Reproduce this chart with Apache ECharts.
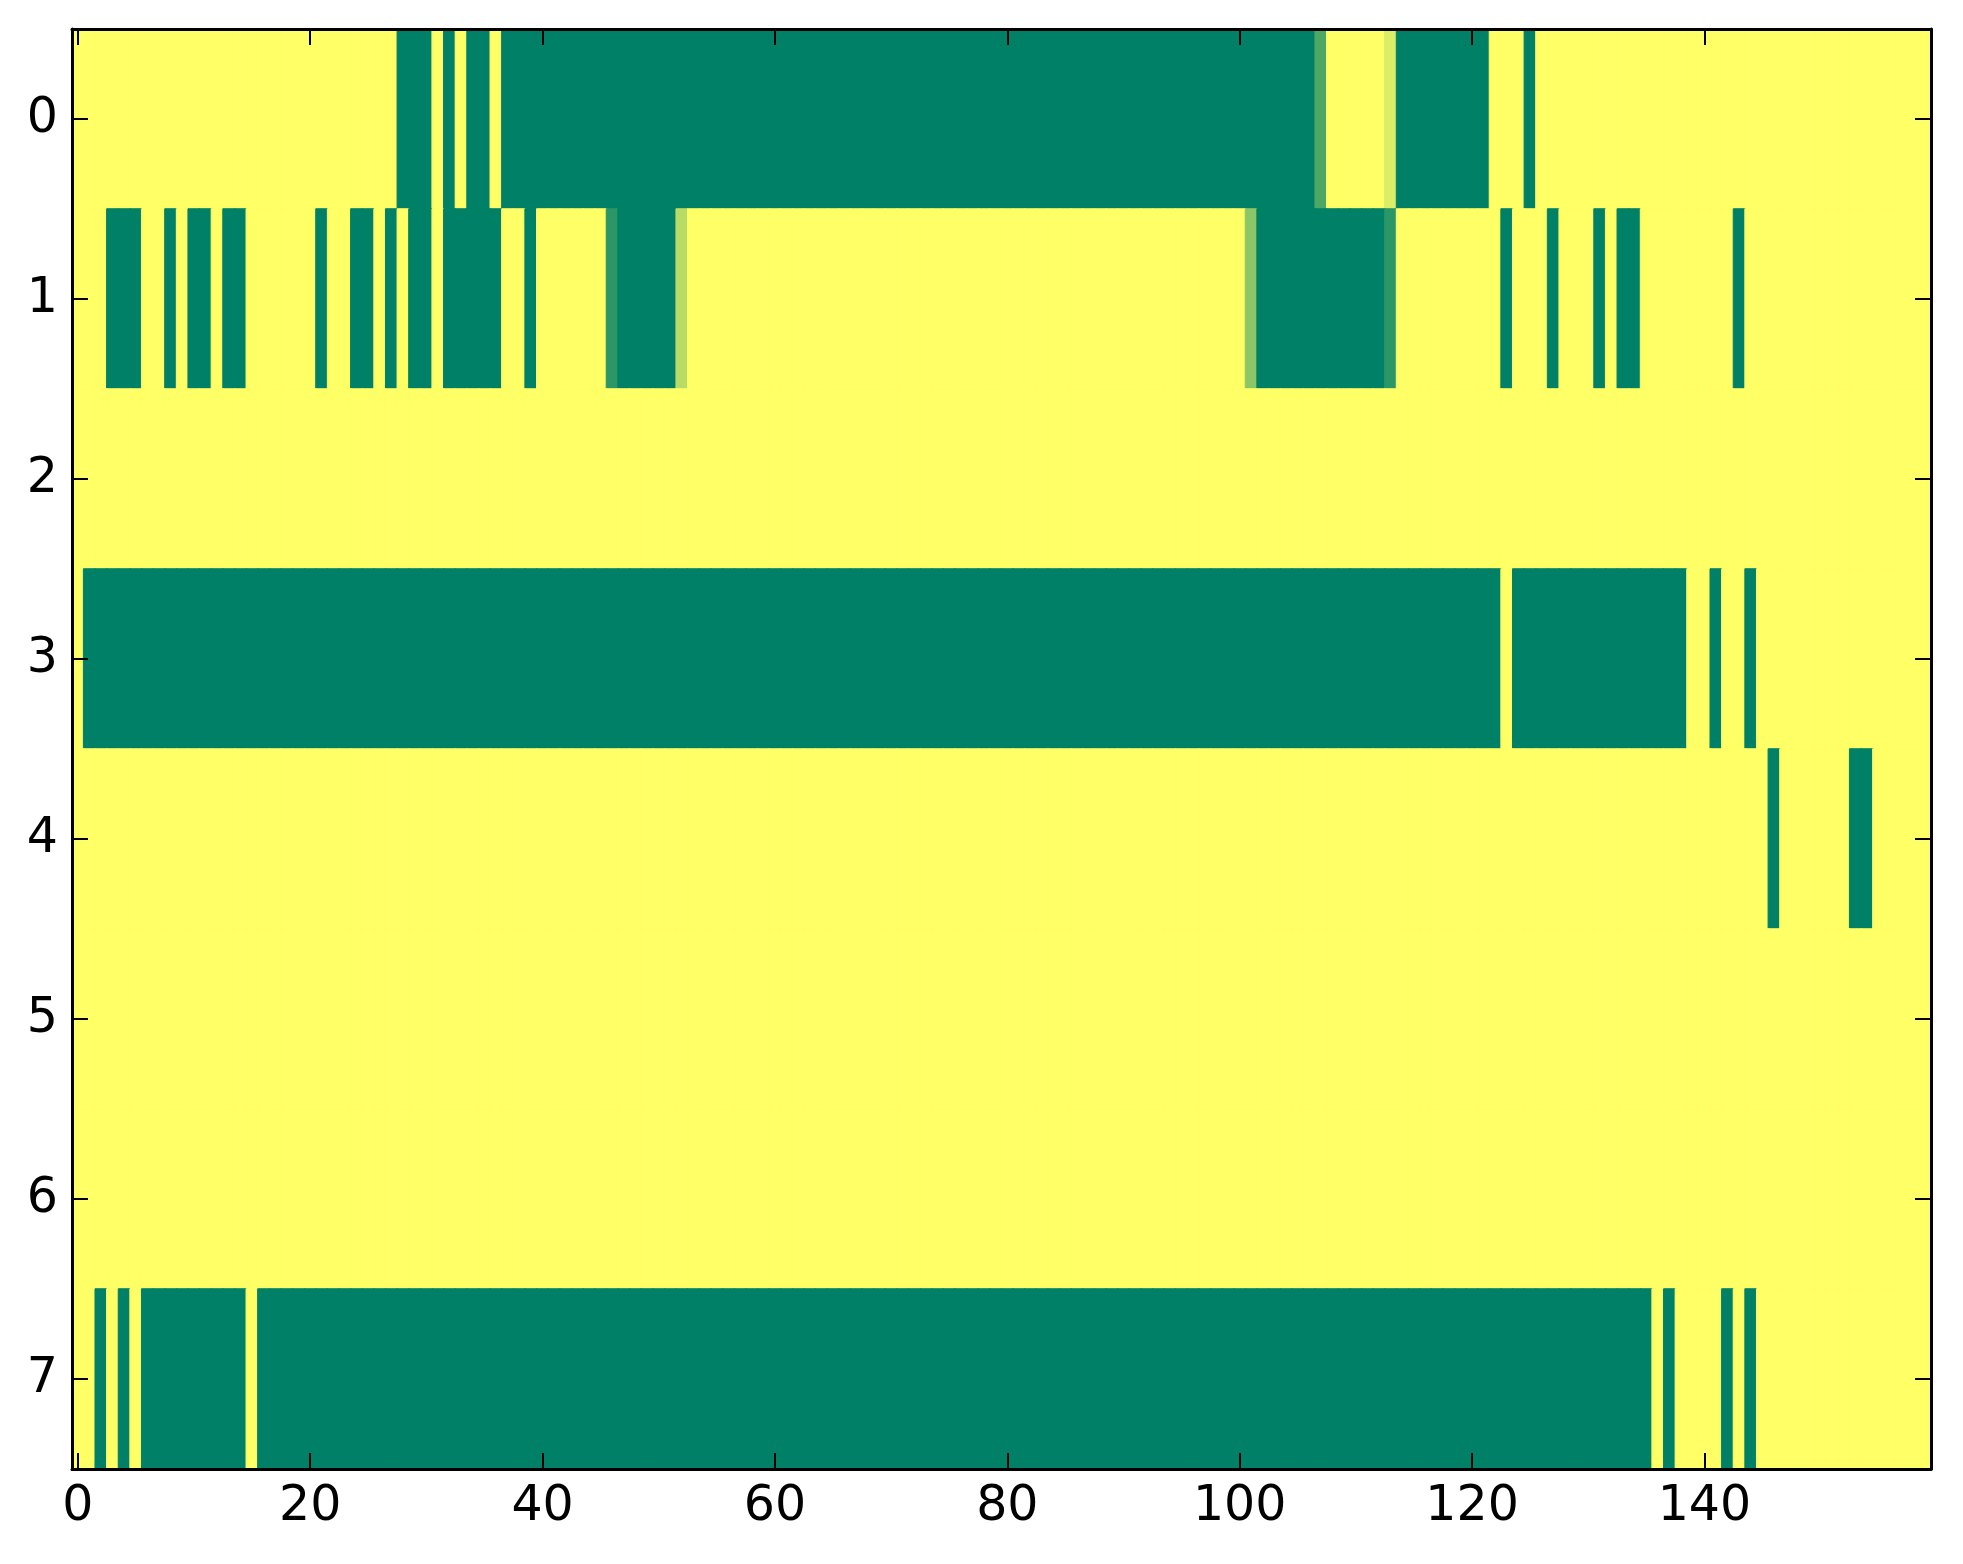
<!DOCTYPE html>
<html>
<head>
<meta charset="utf-8">
<script src="https://cdn.jsdelivr.net/npm/echarts@6/dist/echarts.min.js"></script>
<style>
html,body{margin:0;padding:0;background:#fff;}
#chart{width:1963px;height:1564px;}
</style>
</head>
<body>
<div id="chart"></div>
<script>
// Column categories (0..159) and row categories (0..7)
const colCount = 160;
const rowLabels = ['0','1','2','3','4','5','6','7'];
const xTickLabels = ['0','20','40','60','80','100','120','140'];

const row0 = [
1,1,1,1,1,1,1,1,1,1, 1,1,1,1,1,1,1,1,1,1,
1,1,1,1,1,1,1,1,0,0, 0,1,0,1,0,0,1,0,0,0,
0,0,0,0,0,0,0,0,0,0, 0,0,0,0,0,0,0,0,0,0,
0,0,0,0,0,0,0,0,0,0, 0,0,0,0,0,0,0,0,0,0,
0,0,0,0,0,0,0,0,0,0, 0,0,0,0,0,0,0,0,0,0,
0,0,0,0,0,0,0,0.31,1,1, 1,1,1,0.86,0,0,0,0,0,0,
0,0,1,1,1,0,1,1,1,1, 1,1,1,1,1,1,1,1,1,1,
1,1,1,1,1,1,1,1,1,1, 1,1,1,1,1,1,1,1,1,1
];
const row1 = [
1,1,1,0,0,0,1,1,0,1, 0,0,1,0,0,1,1,1,1,1,
1,0,1,1,0,0,1,0,1,0, 0,1,0,0,0,0,0,1,1,0,
1,1,1,1,1,1,0.17,0,0,0, 0,0,0.72,1,1,1,1,1,1,1,
1,1,1,1,1,1,1,1,1,1, 1,1,1,1,1,1,1,1,1,1,
1,1,1,1,1,1,1,1,1,1, 1,1,1,1,1,1,1,1,1,1,
1,0.55,0,0,0,0,0,0,0,0, 0,0,0,0.17,1,1,1,1,1,1,
1,1,1,0,1,1,1,0,1,1, 1,0,1,0,0,1,1,1,1,1,
1,1,1,0,1,1,1,1,1,1, 1,1,1,1,1,1,1,1,1,1
];
const row2 = [
1,1,1,1,1,1,1,1,1,1, 1,1,1,1,1,1,1,1,1,1,
1,1,1,1,1,1,1,1,1,1, 1,1,1,1,1,1,1,1,1,1,
1,1,1,1,1,1,1,1,1,1, 1,1,1,1,1,1,1,1,1,1,
1,1,1,1,1,1,1,1,1,1, 1,1,1,1,1,1,1,1,1,1,
1,1,1,1,1,1,1,1,1,1, 1,1,1,1,1,1,1,1,1,1,
1,1,1,1,1,1,1,1,1,1, 1,1,1,1,1,1,1,1,1,1,
1,1,1,1,1,1,1,1,1,1, 1,1,1,1,1,1,1,1,1,1,
1,1,1,1,1,1,1,1,1,1, 1,1,1,1,1,1,1,1,1,1
];
const row3 = [
1,0,0,0,0,0,0,0,0,0, 0,0,0,0,0,0,0,0,0,0,
0,0,0,0,0,0,0,0,0,0, 0,0,0,0,0,0,0,0,0,0,
0,0,0,0,0,0,0,0,0,0, 0,0,0,0,0,0,0,0,0,0,
0,0,0,0,0,0,0,0,0,0, 0,0,0,0,0,0,0,0,0,0,
0,0,0,0,0,0,0,0,0,0, 0,0,0,0,0,0,0,0,0,0,
0,0,0,0,0,0,0,0,0,0, 0,0,0,0,0,0,0,0,0,0,
0,0,0,1,0,0,0,0,0,0, 0,0,0,0,0,0,0,0,0,1,
1,0,1,1,0,1,1,1,1,1, 1,1,1,1,1,1,1,1,1,1
];
const row4 = [
1,1,1,1,1,1,1,1,1,1, 1,1,1,1,1,1,1,1,1,1,
1,1,1,1,1,1,1,1,1,1, 1,1,1,1,1,1,1,1,1,1,
1,1,1,1,1,1,1,1,1,1, 1,1,1,1,1,1,1,1,1,1,
1,1,1,1,1,1,1,1,1,1, 1,1,1,1,1,1,1,1,1,1,
1,1,1,1,1,1,1,1,1,1, 1,1,1,1,1,1,1,1,1,1,
1,1,1,1,1,1,1,1,1,1, 1,1,1,1,1,1,1,1,1,1,
1,1,1,1,1,1,1,1,1,1, 1,1,1,1,1,1,1,1,1,1,
1,1,1,1,1,1,0,1,1,1, 1,1,1,0,0,1,1,1,1,1
];
const row5 = row2.slice();
const row6 = row2.slice();
const row7 = [
1,1,0,1,0,1,0,0,0,0, 0,0,0,0,0,1,0,0,0,0,
0,0,0,0,0,0,0,0,0,0, 0,0,0,0,0,0,0,0,0,0,
0,0,0,0,0,0,0,0,0,0, 0,0,0,0,0,0,0,0,0,0,
0,0,0,0,0,0,0,0,0,0, 0,0,0,0,0,0,0,0,0,0,
0,0,0,0,0,0,0,0,0,0, 0,0,0,0,0,0,0,0,0,0,
0,0,0,0,0,0,0,0,0,0, 0,0,0,0,0,0,0,0,0,0,
0,0,0,0,0,0,0,0,0,0, 0,0,0,0,0,0,1,0,1,1,
1,1,0,1,0,1,1,1,1,1, 1,1,1,1,1,1,1,1,1,1
];
const rows = [row0,row1,row2,row3,row4,row5,row6,row7];

const colorStops = ['#008066', '#ffff66'];   // matplotlib "summer" end colours

const cols = [];
for (let i = 0; i < colCount; i++) cols.push(String(i));

// Each cell gets a 1px border in its own colour so neighbouring cells leave no seam
const data = [];
rows.forEach((r, y) => r.forEach((v, x) => data.push({
  value: [x, y, v],
  itemStyle: { borderColor: echarts.color.lerp(v, colorStops), borderWidth: 1 }
})));

const fontFamily = 'DejaVu Sans';
const tickShow = (i) => xTickLabels.indexOf(String(i)) >= 0;

const axisLineStyle = { show: true, lineStyle: { color: '#000', width: 3 } };
const xTick = { show: true, inside: true, length: 16, alignWithLabel: true, interval: tickShow, lineStyle: { color: '#000', width: 2 } };
const yTick = { show: true, inside: true, length: 16, alignWithLabel: true, interval: 0, lineStyle: { color: '#000', width: 2 } };

const chart = echarts.init(document.getElementById('chart'), null, { renderer: 'canvas' });
chart.setOption({
  backgroundColor: '#ffffff',
  animation: false,
  grid: { left: 72, top: 29, right: 32, bottom: 95, containLabel: false },
  xAxis: [
    { type: 'category', data: cols, position: 'bottom', z: 10,
      axisLine: axisLineStyle, axisTick: xTick,
      axisLabel: { interval: tickShow, fontSize: 49, color: '#000', fontFamily: fontFamily, margin: 14 },
      splitLine: { show: false } },
    { type: 'category', data: cols, position: 'top', z: 10,
      axisLine: axisLineStyle, axisTick: xTick,
      axisLabel: { show: false }, splitLine: { show: false } }
  ],
  yAxis: [
    { type: 'category', data: rowLabels, inverse: true, position: 'left', z: 10,
      axisLine: axisLineStyle, axisTick: yTick,
      axisLabel: { interval: 0, fontSize: 49, color: '#000', fontFamily: fontFamily, margin: 14 },
      splitLine: { show: false } },
    { type: 'category', data: rowLabels, inverse: true, position: 'right', z: 10,
      axisLine: axisLineStyle, axisTick: yTick,
      axisLabel: { show: false }, splitLine: { show: false } }
  ],
  visualMap: {
    show: false, type: 'continuous', min: 0, max: 1, dimension: 2, seriesIndex: 0,
    inRange: { color: colorStops }
  },
  series: [{
    type: 'heatmap',
    xAxisIndex: 0, yAxisIndex: 0,
    data: data,
    emphasis: { disabled: true },
    progressive: 0
  }]
});
</script>
</body>
</html>
